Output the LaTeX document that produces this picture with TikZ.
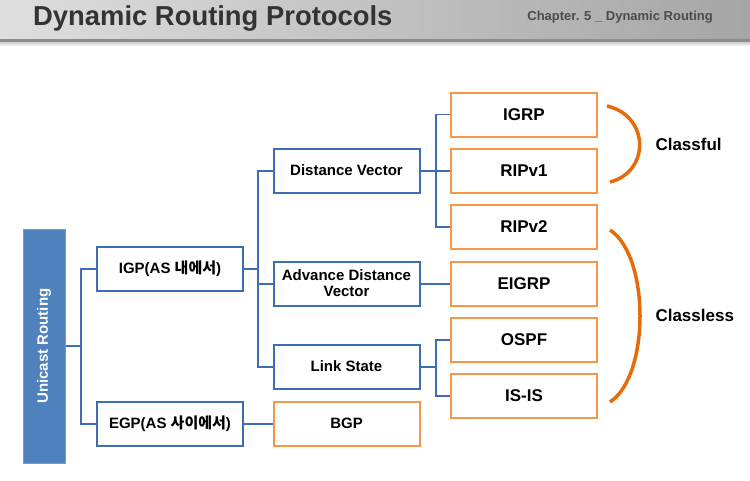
\documentclass[tikz,border=0pt]{standalone}
\usepackage{fontspec}
\setmainfont{Liberation Sans}
\newfontfamily\krfont{Noto Sans CJK KR}
\usetikzlibrary{shadows}

\definecolor{lineblue}{HTML}{3C6EB4}
\definecolor{fillblue}{HTML}{4F81BD}
\definecolor{boxorange}{HTML}{F79646}
\definecolor{arcorange}{HTML}{E46C0A}
\definecolor{titlegray}{HTML}{333333}

\tikzset{
	bluebox/.style={draw=lineblue, line width=2pt, fill=white, minimum width=146pt, minimum height=44pt, inner sep=1pt, align=center, font=\fontsize{15}{16}\selectfont\bfseries},
	orangebox/.style={draw=boxorange, line width=2pt, fill=white, minimum width=146pt, minimum height=44pt, inner sep=1pt, font=\fontsize{17}{17}\selectfont\bfseries},
	wire/.style={draw=lineblue, line width=2pt},
	thinwire/.style={draw=lineblue, line width=1.2pt},
	brace/.style={draw=arcorange, line width=3.5pt},
	tag/.style={anchor=west, font=\fontsize{17}{17}\selectfont\bfseries}
}

\begin{document}
\begin{tikzpicture}[x=1pt, y=-1pt]
	\useasboundingbox (0,0) rectangle (750,480);
	% Header band:
	\shade[left color=black!13, right color=black!35] (0,0) rectangle (750,40);
	\fill[black!45] (0,39) rectangle (750,42);
	\shade[top color=black!20, bottom color=white] (0,42) rectangle (750,46);
	\node[anchor=base west, inner sep=0pt, text=titlegray, font=\fontsize{27.4}{28}\selectfont\bfseries] (title) at (33,25) {Dynamic Routing Protocols};
	\node[anchor=base east, inner sep=0pt, text=black!70, font=\fontsize{13}{13}\selectfont\bfseries] (chapter) at (713,20) {Chapter. 5 \_ Dynamic Routing};

	% Boxes:
	\node[fill=fillblue, draw=fillblue!80!white, line width=1pt, minimum width=42pt, minimum height=234pt, drop shadow={opacity=0.3, shadow xshift=1pt, shadow yshift=-1pt}] (uni) at (44,346) {};
	\node[rotate=90, text=white, font=\fontsize{15}{15}\selectfont\bfseries] (unitext) at (uni.center) {Unicast Routing};
	\node[bluebox] (igp) at (170,268.5) {IGP(AS {\krfont 내에서})};
	\node[bluebox] (egp) at (170,423.5) {EGP(AS {\krfont 사이에서})};
	\node[bluebox] (dv) at (346.5,170.5) {Distance Vector};
	\node[bluebox] (adv) at (346.5,283.5) {Advance Distance\\Vector};
	\node[bluebox] (ls) at (346.5,366.5) {Link State};
	\node[bluebox, draw=boxorange] (bgp) at (346.5,423.5) {BGP};
	\node[orangebox] (igrp) at (524,114.5) {IGRP};
	\node[orangebox] (rip1) at (524,170.5) {RIPv1};
	\node[orangebox] (rip2) at (524,226.5) {RIPv2};
	\node[orangebox] (eigrp) at (524,283.5) {EIGRP};
	\node[orangebox] (ospf) at (524,339.5) {OSPF};
	\node[orangebox] (isis) at (524,395.5) {IS-IS};

	% Wires:
	\coordinate (j1) at (81,346);
	\coordinate (j2) at (258,268.5);
	\coordinate (j3) at (436,170.5);
	\coordinate (j4) at (436,366.5);
	\draw[wire] (uni.east) -- (j1) |- (igp.west);
	\draw[wire] (j1) |- (egp.west);
	\draw[wire] (igp.east) -- (j2) |- (dv.west);
	\draw[wire] (j2) |- (adv.west);
	\draw[wire] (j2) |- (ls.west);
	\draw[wire] (egp.east) -- (bgp.west);
	\draw[wire] (dv.east) -- (rip1.west);
	\draw[thinwire] (j3) |- (igrp.west);
	\draw[wire] (j3) |- (rip2.west);
	\draw[wire] (adv.east) -- (eigrp.west);
	\draw[wire] (ls.east) -- (j4);
	\draw[wire] (j4) |- (ospf.west);
	\draw[wire] (j4) |- (isis.west);

	% Brackets:
	\draw[brace] (607,106) .. controls (650,116) and (650,172) .. (610,182);
	\draw[brace] (610,230) .. controls (650,256) and (650,376) .. (610,402);
	\node[tag] (classful) at (652,144) {Classful};
	\node[tag] (classless) at (652,315) {Classless};
\end{tikzpicture}
\end{document}
